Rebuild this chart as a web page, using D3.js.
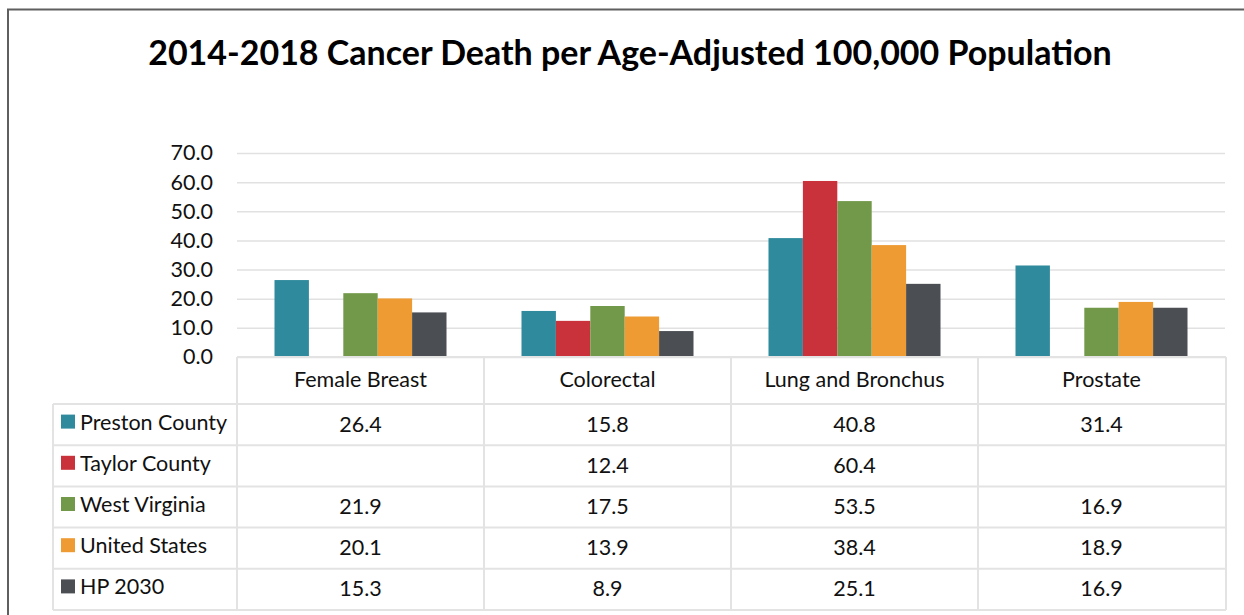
<!DOCTYPE html>
<html>
<head>
<meta charset="utf-8">
<script src="https://cdn.jsdelivr.net/npm/d3@7"></script>
<style>
  body { margin: 0; background: #fff; }
  svg { display: block; font-family: Lato, "Open Sans", sans-serif; }
</style>
</head>
<body>
<svg id="chart"></svg>
<script>
const width = 1244
const height = 615

// Chart data
const categories = ['Female Breast', 'Colorectal', 'Lung and Bronchus', 'Prostate']
const seriesNames = ['Preston County', 'Taylor County', 'West Virginia', 'United States', 'HP 2030']
const prestonCounty = [26.4, 15.8, 40.8, 31.4]
const taylorCounty = [null, 12.4, 60.4, null]
const westVirginia = [21.9, 17.5, 53.5, 16.9]
const unitedStates = [20.1, 13.9, 38.4, 18.9]
const hp2030 = [15.3, 8.9, 25.1, 16.9]
const yTicks = [0, 10, 20, 30, 40, 50, 60, 70]
const titleText = '2014-2018 Cancer Death per Age-Adjusted 100,000 Population'

const seriesValues = [prestonCounty, taylorCounty, westVirginia, unitedStates, hp2030]
const colors = ['#2e8a9c', '#c9323a', '#72994a', '#ee9b33', '#4b4e53']

const plotLeft = 237
const plotRight = 1225
const plotTop = 153
const plotBottom = 357
const legendLeft = 53
const headerBottom = 404
const rowHeight = 41.2
const fontSize = 21.5

var svg = d3.select('#chart')
    .attr('width', width)
    .attr('height', height);

// Outer frame
svg.append('path')
    .attr('d', `M8,${height + 5}V9.5H${width + 5}`)
    .attr('fill', 'none')
    .attr('stroke', '#5f5f5f')
    .attr('stroke-width', 2);

// Title, sized to fill the same width as the original
var title = svg.append('text')
    .attr('x', 630)
    .attr('y', 65)
    .attr('text-anchor', 'middle')
    .attr('font-weight', 'bold')
    .attr('font-size', 34)
    .attr('fill', '#000')
    .text(titleText);
var tw = title.node().getComputedTextLength();
title.attr('font-size', 34 * 964 / tw);

var xScale = d3.scaleBand()
    .domain(categories)
    .range([plotLeft, plotRight]);

var xInner = d3.scaleBand()
    .domain(seriesNames)
    .range([0, xScale.bandwidth()])
    .paddingInner(0)
    .paddingOuter(1.09);

var yScale = d3.scaleLinear()
    .domain([0, 70])
    .range([plotBottom, plotTop]);

// Gridlines
svg.append('g')
    .attr('class', 'grid')
    .attr('transform', `translate(${plotLeft},0)`)
    .call(d3.axisLeft(yScale).tickValues(yTicks).tickSize(-(plotRight - plotLeft)).tickFormat(''))
    .call(g => g.select('.domain').remove())
    .call(g => g.selectAll('line').attr('stroke', '#e1e1e1').attr('stroke-width', 1.5));

// Y axis labels
svg.append('g')
    .attr('class', 'y-axis')
    .attr('transform', `translate(${plotLeft},0)`)
    .call(d3.axisLeft(yScale).tickValues(yTicks).tickSize(0).tickPadding(24).tickFormat(d3.format('.1f')))
    .call(g => g.select('.domain').remove())
    .call(g => g.selectAll('text')
        .attr('font-family', 'Lato, "Open Sans", sans-serif')
        .attr('font-size', fontSize)
        .attr('fill', '#111'));

// Bars
var bars = [];
seriesValues.forEach((vals, si) => {
    vals.forEach((v, ci) => {
        if (v !== null) bars.push({ cat: categories[ci], series: seriesNames[si], value: v, color: colors[si] });
    });
});

svg.append('g')
    .selectAll('rect')
    .data(bars)
    .enter()
    .append('rect')
    .attr('x', d => xScale(d.cat) + xInner(d.series))
    .attr('y', d => yScale(d.value))
    .attr('width', xInner.bandwidth())
    .attr('height', d => yScale(0) - yScale(d.value))
    .attr('fill', d => d.color);

// Data table
var table = svg.append('g').attr('class', 'table');
var tableBottom = headerBottom + rowHeight * seriesNames.length;
var lineColor = '#e3e3e3';

// horizontal lines
table.append('line')
    .attr('x1', plotLeft).attr('x2', plotRight + 1)
    .attr('y1', plotBottom).attr('y2', plotBottom)
    .attr('stroke', lineColor).attr('stroke-width', 2);
for (let i = 0; i <= seriesNames.length; i++) {
    let y = headerBottom + rowHeight * i;
    table.append('line')
        .attr('x1', legendLeft).attr('x2', plotRight + 1)
        .attr('y1', y).attr('y2', y)
        .attr('stroke', lineColor).attr('stroke-width', 2);
}
// vertical lines
table.append('line')
    .attr('x1', legendLeft).attr('x2', legendLeft)
    .attr('y1', headerBottom).attr('y2', tableBottom)
    .attr('stroke', lineColor).attr('stroke-width', 2);
var colEdges = categories.map(c => xScale(c)).concat([plotRight + 1]);
for (let x of colEdges) {
    table.append('line')
        .attr('x1', x).attr('x2', x)
        .attr('y1', plotBottom).attr('y2', tableBottom)
        .attr('stroke', lineColor).attr('stroke-width', 2);
}

// header texts
table.selectAll('text.header')
    .data(categories)
    .enter()
    .append('text')
    .attr('class', 'header')
    .attr('x', d => xScale(d) + xScale.bandwidth() / 2)
    .attr('y', (plotBottom + headerBottom) / 2 + 6)
    .attr('text-anchor', 'middle')
    .attr('font-size', fontSize)
    .attr('fill', '#111')
    .text(d => d);

// rows: legend key + values
seriesNames.forEach((name, si) => {
    let cy = headerBottom + rowHeight * si + rowHeight / 2;
    table.append('rect')
        .attr('x', 61)
        .attr('y', cy - 10)
        .attr('width', 14)
        .attr('height', 14)
        .attr('fill', colors[si]);
    table.append('text')
        .attr('x', 80)
        .attr('y', cy + 5)
        .attr('font-size', fontSize)
        .attr('fill', '#111')
        .text(name);
    seriesValues[si].forEach((v, ci) => {
        if (v === null) return;
        table.append('text')
            .attr('x', xScale(categories[ci]) + xScale.bandwidth() / 2)
            .attr('y', cy + 7)
            .attr('text-anchor', 'middle')
            .attr('font-size', fontSize)
            .attr('fill', '#111')
            .text(d3.format('.1f')(v));
    });
});
</script>
</body>
</html>
